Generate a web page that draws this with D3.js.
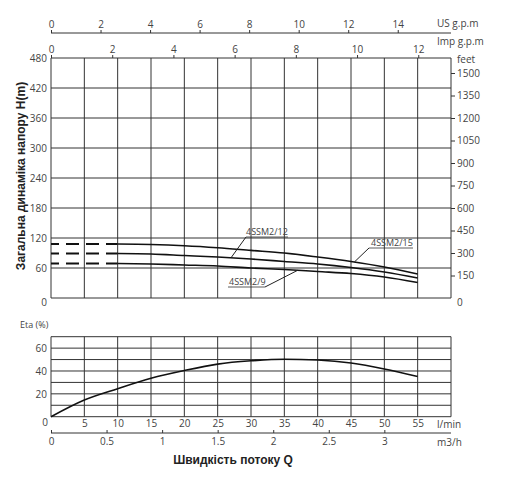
<!DOCTYPE html>
<html>
<head>
<meta charset="utf-8">
<script src="https://cdn.jsdelivr.net/npm/d3@7"></script>
<style>
  body { margin: 0; background: #fff; }
  svg text { font-family: "Open Sans", sans-serif; fill: #444; }
  .title { font-family: "Liberation Sans", Arial, sans-serif; font-weight: bold; fill: #222; }
</style>
</head>
<body>
<script>
// flow points (l/min) where the solid head curves are read
var flowLpm = [10, 15, 20, 25, 30, 35, 40, 45, 50, 55];
var head15 = [108, 107, 104.6, 100.6, 95.3, 90, 82, 73, 62, 48];
var head12 = [89, 88, 85, 82, 78, 73, 68, 61, 52, 40];
var head9 = [69, 68, 66, 64, 60, 57, 53, 49, 42, 31];
var modelNames = ["4SSM2/15", "4SSM2/12", "4SSM2/9"];

// efficiency curve
var etaFlow = [0, 5, 10, 15, 20, 25, 30, 35, 40, 45, 50, 55];
var etaValues = [0, 14.6, 24.5, 33.6, 40.4, 46, 48.9, 50.3, 49.6, 47, 41.8, 35.1];

// tick labels
var headTicks = [60, 120, 180, 240, 300, 360, 420, 480];
var feetTicks = [150, 300, 450, 600, 750, 900, 1050, 1200, 1350, 1500];
var usTicks = [0, 2, 4, 6, 8, 10, 12, 14];
var impTicks = [0, 2, 4, 6, 8, 10, 12];
var lpmTicks = [5, 10, 15, 20, 25, 30, 35, 40, 45, 50, 55];
var m3hTicks = [0, 0.5, 1, 1.5, 2, 2.5, 3];
var etaTicks = [20, 40, 60];

var width = 512, height = 488;
var left = 51, right = 451;

var svg = d3.select("body").append("svg")
  .attr("width", width)
  .attr("height", height);

var x = d3.scaleLinear().domain([0, 60]).range([left, right]);
var xUS = d3.scaleLinear().domain([0, 16.15]).range([left, right]);
var xImp = d3.scaleLinear().domain([0, 13.07]).range([left, right]);
var xM3 = d3.scaleLinear().domain([0, 3.6]).range([left, right]);

var yH = d3.scaleLinear().domain([0, 480]).range([298, 58]);
var yFt = d3.scaleLinear().domain([0, 1600]).range([298, 58]);
var yEta = d3.scaleLinear().domain([0, 70]).range([416.7, 336.7]);

var gridColor = "#333";

// ---- head plot grid
var headGrid = svg.append("g");
headGrid.selectAll(".vg").data(d3.range(0, 61, 5)).enter().append("line")
  .attr("x1", d => x(d)).attr("x2", d => x(d))
  .attr("y1", yH(480)).attr("y2", yH(0))
  .attr("stroke", gridColor).attr("stroke-width", 1);
headGrid.selectAll(".hg").data(d3.range(0, 481, 60)).enter().append("line")
  .attr("x1", left).attr("x2", right)
  .attr("y1", d => yH(d)).attr("y2", d => yH(d))
  .attr("stroke", gridColor).attr("stroke-width", 1);

// left axis labels (m)
var yAxisL = d3.axisLeft(yH).tickValues(headTicks).tickSize(0).tickPadding(4);
var gL = svg.append("g").attr("transform", `translate(${left},0)`).call(yAxisL);
gL.select(".domain").remove();
gL.selectAll("text").style("font-size", "10px").attr("fill", "#444");
svg.append("text").attr("x", 47).attr("y", 306).attr("text-anchor", "end")
  .style("font-size", "10px").text("0");

// right axis (feet)
var yAxisR = d3.axisRight(yFt).tickValues(feetTicks).tickFormat(d3.format("d"))
  .tickSize(4).tickPadding(2);
var gR = svg.append("g").attr("transform", `translate(${right},0)`).call(yAxisR);
gR.select(".domain").remove();
gR.selectAll("line").attr("stroke", "#333");
gR.selectAll("text").style("font-size", "10px").attr("fill", "#444");
svg.append("text").attr("x", 457).attr("y", 306).style("font-size", "10px").text("0");
svg.append("text").attr("x", 457).attr("y", 63).style("font-size", "10px").text("feet");

// US gpm axis
var usAxis = d3.axisTop(xUS).tickValues(usTicks).tickSize(3).tickPadding(2).tickSizeOuter(0);
var gUS = svg.append("g").attr("transform", "translate(0,33)").call(usAxis);
gUS.select(".domain").attr("d", `M${left},0H${right}`).attr("stroke", "#333");
gUS.selectAll("line").attr("stroke", "#333");
gUS.selectAll("text").style("font-size", "10px").attr("fill", "#444");
svg.append("text").attr("x", 437).attr("y", 27).style("font-size", "10px").text("US g.p.m");

// Imp gpm axis (sits on the plot top)
var impAxis = d3.axisTop(xImp).tickValues(impTicks).tickSize(3).tickPadding(2).tickSizeOuter(0);
var gImp = svg.append("g").attr("transform", `translate(0,${yH(480)})`).call(impAxis);
gImp.select(".domain").remove();
gImp.selectAll("line").attr("stroke", "#333");
gImp.selectAll("text").style("font-size", "10px").attr("fill", "#444");
svg.append("text").attr("x", 437).attr("y", 45).style("font-size", "10px").text("Imp g.p.m");

// left title
svg.append("text").attr("class", "title")
  .attr("text-anchor", "middle")
  .attr("transform", "translate(25,176)rotate(-90)")
  .style("font-size", "12px")
  .text("Загальна динаміка напору H(m)");

// head curves
var heads = [head15, head12, head9];
var line = d3.line().x(d => x(d[0])).y(d => yH(d[1])).curve(d3.curveMonotoneX);
heads.forEach(function (h) {
  var pts = flowLpm.map((q, i) => [q, h[i]]);
  svg.append("path").attr("d", line(pts))
    .attr("fill", "none").attr("stroke", "#111").attr("stroke-width", 1.6);
  svg.append("line")
    .attr("x1", x(0)).attr("x2", x(flowLpm[0]))
    .attr("y1", yH(h[0])).attr("y2", yH(h[0]))
    .attr("stroke", "#111").attr("stroke-width", 1.8)
    .attr("stroke-dasharray", "13,7").attr("stroke-dashoffset", 5);
});

// model labels with leader lines
var labelSpec = [
  {name: modelNames[0], tx: 371, ty: 246, ux1: 369, ux2: 413, uy: 248, lx: 356, q: 45.5, h: head15},
  {name: modelNames[1], tx: 246, ty: 235, ux1: 246, ux2: 288, uy: 237, lx: 235, q: 27, h: head12},
  {name: modelNames[2], tx: 229, ty: 285, ux1: 228, ux2: 265, uy: 287, lx: 298, q: 37, h: head9}
];
labelSpec.forEach(function (s) {
  var i = d3.bisectLeft(flowLpm, s.q);
  var t = (s.q - flowLpm[i - 1]) / (flowLpm[i] - flowLpm[i - 1]);
  var hv = s.h[i - 1] + t * (s.h[i] - s.h[i - 1]);
  svg.append("text").attr("x", s.tx).attr("y", s.ty)
    .style("font-size", "9px").attr("fill", "#333").text(s.name);
  svg.append("line").attr("x1", s.ux1).attr("x2", s.ux2).attr("y1", s.uy).attr("y2", s.uy)
    .attr("stroke", "#333").attr("stroke-width", 0.8);
  var sx = s.lx > s.ux2 ? s.ux2 : s.ux1;
  svg.append("line").attr("x1", sx).attr("y1", s.uy)
    .attr("x2", x(s.q)).attr("y2", yH(hv))
    .attr("stroke", "#222").attr("stroke-width", 1);
});

// ---- efficiency plot
var etaGrid = svg.append("g");
etaGrid.selectAll(".vg").data(d3.range(0, 61, 5)).enter().append("line")
  .attr("x1", d => x(d)).attr("x2", d => x(d))
  .attr("y1", yEta(70)).attr("y2", yEta(0))
  .attr("stroke", gridColor).attr("stroke-width", 1);
etaGrid.selectAll(".hg").data(d3.range(0, 71, 10)).enter().append("line")
  .attr("x1", left).attr("x2", right)
  .attr("y1", d => yEta(d)).attr("y2", d => yEta(d))
  .attr("stroke", gridColor).attr("stroke-width", 1);

var etaAxis = d3.axisLeft(yEta).tickValues(etaTicks).tickSize(0).tickPadding(4);
var gE = svg.append("g").attr("transform", `translate(${left},0)`).call(etaAxis);
gE.select(".domain").remove();
gE.selectAll("text").style("font-size", "10px").attr("fill", "#444");
svg.append("text").attr("x", 48).attr("y", 426).attr("text-anchor", "end")
  .style("font-size", "10px").text("0");
svg.append("text").attr("x", 20).attr("y", 328).style("font-size", "9px").text("Eta (%)");

var etaLine = d3.line().x(d => x(d[0])).y(d => yEta(d[1])).curve(d3.curveMonotoneX);
svg.append("path").attr("d", etaLine(etaFlow.map((q, i) => [q, etaValues[i]])))
  .attr("fill", "none").attr("stroke", "#111").attr("stroke-width", 1.6);

// l/min labels
var lpmAxis = d3.axisBottom(x).tickValues(lpmTicks).tickSize(0).tickPadding(3);
var gQ = svg.append("g").attr("transform", `translate(0,${yEta(0)})`).call(lpmAxis);
gQ.select(".domain").remove();
gQ.selectAll("text").style("font-size", "10px").attr("fill", "#444");
svg.append("text").attr("x", 437).attr("y", 428).style("font-size", "10px").text("l/min");

// m3/h axis
var m3Axis = d3.axisBottom(xM3).tickValues(m3hTicks).tickFormat(d3.format("~g"))
  .tickSize(0).tickPadding(5).tickSizeOuter(0);
var gM = svg.append("g").attr("transform", "translate(0,433)").call(m3Axis);
gM.select(".domain").attr("d", `M${left},0H${right}`).attr("stroke", "#333");
gM.selectAll(".tick").append("line").attr("y1", 0).attr("y2", -3).attr("stroke", "#333");
gM.selectAll("text").style("font-size", "10px").attr("fill", "#444");
svg.append("text").attr("x", 437).attr("y", 446).style("font-size", "10px").text("m3/h");

svg.append("text").attr("class", "title")
  .attr("x", 233).attr("y", 464).attr("text-anchor", "middle")
  .style("font-size", "12px")
  .text("Швидкість потоку Q");
</script>
</body>
</html>
